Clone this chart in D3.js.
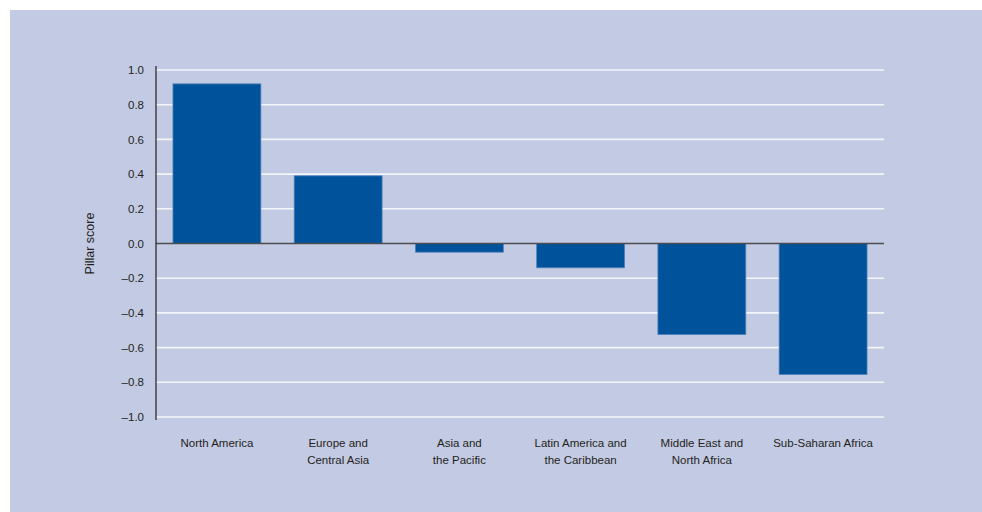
<!DOCTYPE html>
<html>
<head>
<meta charset="utf-8">
<script src="https://cdn.jsdelivr.net/npm/d3@7"></script>
<style>
body { margin: 0; background: #fff; }
svg { display: block; }
text { font-family: "Liberation Sans Narrow", "Arial Narrow", "Liberation Sans", sans-serif; fill: #231f20; }
</style>
</head>
<body>
<div id="main"></div>
<script>
var regions = [
    ['North America'],
    ['Europe and', 'Central Asia'],
    ['Asia and', 'the Pacific'],
    ['Latin America and', 'the Caribbean'],
    ['Middle East and', 'North Africa'],
    ['Sub-Saharan Africa']];
var scores = [0.92, 0.39, -0.05, -0.14, -0.525, -0.755];
var yTicks = [-1.0, -0.8, -0.6, -0.4, -0.2, 0.0, 0.2, 0.4, 0.6, 0.8, 1.0];

var width = 982, height = 512;
var margin = {top: 70, left: 156, right: 98, bottom: 95};

var svg = d3.select('#main')
    .append('svg')
    .attr('width', width)
    .attr('height', height);

// panel background
svg.append('rect')
    .attr('x', 10)
    .attr('y', 10)
    .attr('width', width - 10)
    .attr('height', height - 10)
    .attr('fill', '#c3cae3');

var x = d3.scaleBand()
    .domain(d3.range(regions.length))
    .range([margin.left, width - margin.right])
    .paddingInner(0.275)
    .paddingOuter(0.14);

var y = d3.scaleLinear()
    .domain([-1, 1])
    .range([height - margin.bottom, margin.top]);

// gridlines
svg.append('g')
    .attr('class', 'grid')
    .selectAll('line')
    .data(yTicks.filter(d => d !== 0))
    .enter()
    .append('line')
    .attr('x1', margin.left)
    .attr('x2', width - margin.right)
    .attr('y1', d => y(d))
    .attr('y2', d => y(d))
    .attr('stroke', '#f4f5fa')
    .attr('stroke-width', 1.6);

// bars
svg.append('g')
    .selectAll('rect')
    .data(scores)
    .enter()
    .append('rect')
    .attr('x', (d, i) => x(i))
    .attr('width', x.bandwidth())
    .attr('y', d => y(Math.max(0, d)))
    .attr('height', d => Math.abs(y(d) - y(0)))
    .attr('fill', '#00529b')
    .attr('stroke', '#4f82bd')
    .attr('stroke-width', 0.8);

// zero line
svg.append('line')
    .attr('x1', margin.left)
    .attr('x2', width - margin.right)
    .attr('y1', y(0))
    .attr('y2', y(0))
    .attr('stroke', '#4d4d4f')
    .attr('stroke-width', 1.3);

// y axis
var yAxis = svg.append('g')
    .attr('transform', 'translate(' + margin.left + ',0)')
    .call(d3.axisLeft(y)
        .tickValues(yTicks)
        .tickSize(0)
        .tickPadding(12));

yAxis.select('.domain')
    .attr('stroke', '#231f20')
    .attr('stroke-width', 1.2)
    .attr('d', 'M0,' + (margin.top - 4) + 'V' + (y(-1) + 3));

yAxis.selectAll('.tick text')
    .attr('font-size', 11.5)
    .attr('font-family', '"Liberation Sans Narrow", "Arial Narrow", sans-serif')
    .attr('fill', '#231f20')
    .text(d => (d < 0 ? '\u2013' : '') + d3.format('.1f')(Math.abs(d)));

// y label
svg.append('text')
    .attr('transform', 'translate(94,' + y(0) + ') rotate(-90)')
    .attr('text-anchor', 'middle')
    .attr('font-size', 12.5)
    .attr('fill', '#111')
    .text('Pillar score');

// x labels
var xLabels = svg.append('g')
    .selectAll('text')
    .data(regions)
    .enter()
    .append('text')
    .attr('text-anchor', 'middle')
    .attr('font-size', 11.5)
    .attr('x', (d, i) => x(i) + x.bandwidth() / 2)
    .attr('y', 447);

xLabels.selectAll('tspan')
    .data(d => d)
    .enter()
    .append('tspan')
    .attr('x', function() { return d3.select(this.parentNode).attr('x'); })
    .attr('dy', (d, i) => i === 0 ? 0 : 17)
    .text(d => d);
</script>
</body>
</html>
